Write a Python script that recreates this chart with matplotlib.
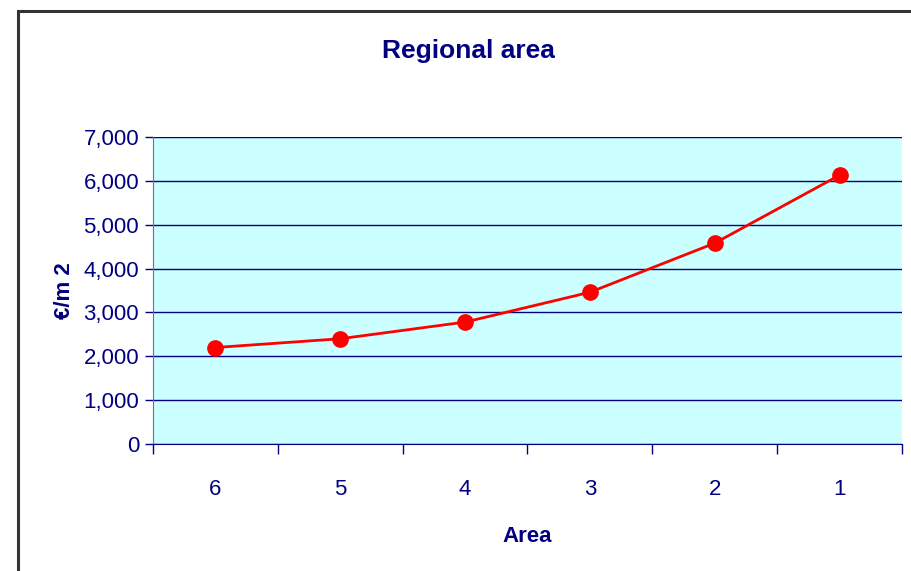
import matplotlib.pyplot as plt
from matplotlib.patches import Rectangle
from matplotlib.ticker import FuncFormatter

areas = ['6', '5', '4', '3', '2', '1']
prices = [2200, 2400, 2780, 3460, 4580, 6130]

navy = '#000080'
plt.rcParams['font.family'] = ['Liberation Sans', 'DejaVu Sans']

fig = plt.figure(figsize=(9.12, 5.71), dpi=100)
ax = fig.add_axes([153 / 912, 1 - 444 / 571, (902 - 153) / 912, (444 - 137) / 571])
ax.set_facecolor('#CCFFFF')

# outer chart border, cut off at right and bottom like the source
fig.patches.append(Rectangle((18 / 912, -0.1), 1.2, 1 - 11 / 571 + 0.1,
                             transform=fig.transFigure, fill=False,
                             edgecolor='#333333', linewidth=2.2))

x = list(range(len(areas)))
ax.plot(x, prices, color='#FF0000', linewidth=2, marker='o',
        markersize=11, zorder=3)

ax.set_xlim(-0.5, len(areas) - 0.5)
ax.set_ylim(0, 7000)
ax.set_yticks(range(0, 7001, 1000))
ax.yaxis.set_major_formatter(FuncFormatter(lambda v, p: f'{int(v):,}'))
ax.grid(axis='y', color=navy, linewidth=1)
ax.set_axisbelow(True)

ax.set_xticks([i - 0.5 for i in range(len(areas) + 1)])
ax.set_xticklabels([])
ax.set_xticks(x, minor=True)
ax.set_xticklabels(areas, minor=True)
ax.tick_params(axis='x', which='major', length=7, color=navy, width=1)
ax.tick_params(axis='x', which='minor', length=0, pad=25, labelsize=16,
               labelcolor=navy)
ax.tick_params(axis='y', length=6, color=navy, width=1, labelsize=16,
               labelcolor=navy, pad=4)

for s in ['top', 'right']:
    ax.spines[s].set_visible(False)
ax.spines['left'].set_color('#6070B0')
ax.spines['bottom'].set_color(navy)

ax.set_xlabel('Area', fontsize=16, fontweight='bold', color=navy, labelpad=19)
ax.set_ylabel('€/m 2', fontsize=16, fontweight='bold', color=navy, labelpad=6)
fig.text(468 / 912, 1 - 51 / 571, 'Regional area', ha='center', va='center',
         fontsize=19, fontweight='bold', color=navy)

fig.savefig('out.png', dpi=100)
